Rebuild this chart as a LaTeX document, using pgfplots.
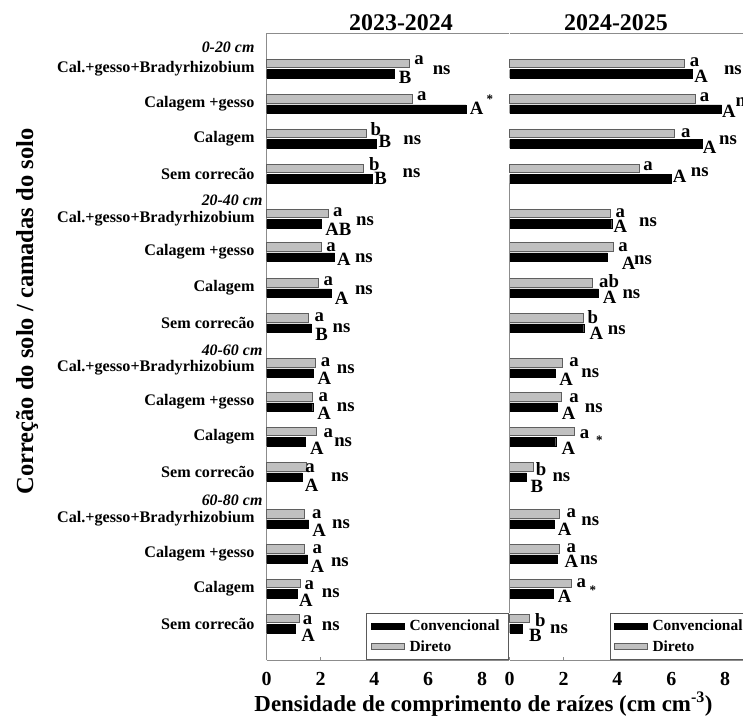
\documentclass[border=0pt]{standalone}
\usepackage{pgfplots}
\pgfplotsset{compat=1.18}
\usepackage{pgfplotstable}
\usepackage{fontspec}
\setmainfont{Liberation Serif}
\definecolor{barg}{RGB}{192,192,192}
\definecolor{bargedge}{RGB}{95,95,95}
\definecolor{axg}{RGB}{140,140,140}
\newcommand\annf{\fontsize{18.8}{18.8}\selectfont\bfseries}
\newcommand\starf{\fontsize{13}{13}\selectfont\bfseries}
\newcommand\depf{\fontsize{16}{16}\selectfont\bfseries\itshape}
\newcommand\lab[3]{\node[font=\annf, inner sep=0pt] at (axis cs:#1,#2) {#3};}
\newcommand\st[2]{\node[font=\starf, inner sep=0pt] at (axis cs:#1,#2) {*};}
\newcommand\dep[2]{\node[font=\depf, anchor=west, inner sep=0pt] at (axis cs:-2.42,#1) {#2};}

% y = -(vertical position of the category), d = Direto, c = Convencional
\pgfplotstableread{
y d c
-68.7 5.30 4.73
-104.0 5.40 7.40
-138.7 3.71 4.06
-173.7 3.59 3.91
-218.7 2.29 2.04
-252.0 2.03 2.52
-288.0 1.93 2.38
-322.8 1.55 1.65
-367.8 1.82 1.73
-402.0 1.71 1.71
-436.5 1.83 1.43
-472.0 1.46 1.32
-519.0 1.41 1.56
-554.0 1.39 1.52
-588.7 1.26 1.13
-623.5 1.21 1.06
}\lefttab
\pgfplotstableread{
y d c
-68.7 6.48 6.77
-104.0 6.89 7.87
-138.7 6.13 7.15
-173.7 4.83 6.01
-218.7 3.75 3.79
-252.0 3.84 3.63
-288.0 3.05 3.29
-322.8 2.72 2.75
-367.8 1.96 1.70
-402.0 1.93 1.77
-436.5 2.40 1.71
-472.0 0.89 0.62
-519.0 1.83 1.66
-554.0 1.86 1.77
-588.7 2.27 1.62
-623.5 0.71 0.47
}\righttab

\pgfplotsset{panel/.style={
  scale only axis, width=242.3bp, height=627bp,
  xmin=0, xmax=9, ymin=-660, ymax=-33,
  xbar, bar width=8.5bp, clip=false,
  axis x line*=bottom,
  axis line style={axg, line width=0.8bp},
  xtick={0,2,4,6,8}, x tick style={axg, line width=0.6bp}, major tick length=3bp,
  xticklabel style={font=\fontsize{20}{20}\selectfont\bfseries, inner sep=0pt, yshift=-12bp},
  /pgf/number format/assume math mode=true,
  legend style={at={(1,0)}, anchor=south east, draw={rgb,255:red,90;green,90;blue,90},
    line width=0.8bp, fill=white, font=\fontsize{15.5}{15.5}\selectfont\bfseries,
    inner xsep=4bp, inner ysep=5bp, row sep=4bp, cells={anchor=west},
    nodes={inner xsep=5bp}},
  legend image code/.code={\draw[##1] (0bp,-2.8bp) rectangle (33bp,2.8bp);},
  convs/.style={fill=black, draw=black, line width=0.4bp, bar shift=0pt},
  dirs/.style={fill=barg, draw=bargedge, line width=0.6bp, bar shift=0pt},
}}

\begin{document}
\begin{tikzpicture}
\begin{axis}[panel, at={(266.7bp,-660bp)}, anchor=south west,
  axis y line*=left, y tick style={draw=none},
  ytick={-68.7,-104,-138.7,-173.7,-218.7,-252,-288,-322.8,-367.8,-402,-436.5,-472,-519,-554,-588.7,-623.5},
  yticklabels={Cal.+gesso+Bradyrhizobium,Calagem +gesso,Calagem,Sem correcão,
    Cal.+gesso+Bradyrhizobium,Calagem +gesso,Calagem,Sem correcão,
    Cal.+gesso+Bradyrhizobium,Calagem +gesso,Calagem,Sem correcão,
    Cal.+gesso+Bradyrhizobium,Calagem +gesso,Calagem,Sem correcão},
  yticklabel style={font=\fontsize{16.2}{16}\selectfont\bfseries, inner sep=0pt, xshift=-9bp}]
\addplot[convs] table[x=c, y expr=\thisrow{y}-5.2] {\lefttab};
\addlegendentry{Convencional}
\addplot[dirs] table[x=d, y expr=\thisrow{y}+5.2] {\lefttab};
\addlegendentry{Direto}
\draw[axg, line width=0.8bp] (rel axis cs:0,1) -- (rel axis cs:1,1);
\dep{-47}{0-20 cm}\dep{-200}{20-40 cm}\dep{-350}{40-60 cm}\dep{-500}{60-80 cm}
\lab{5.66}{-60}{a}\lab{5.14}{-77.3}{B}\lab{6.50}{-70}{ns}
\lab{5.76}{-95.7}{a}\lab{7.80}{-108.3}{A}\st{8.29}{-99.3}
\lab{4.05}{-129.3}{b}\lab{4.39}{-141.7}{B}\lab{5.41}{-140}{ns}
\lab{4.00}{-164}{b}\lab{4.23}{-178.3}{B}\lab{5.38}{-172.7}{ns}
\lab{2.64}{-211.7}{a}\lab{2.66}{-229}{AB}\lab{3.65}{-221}{ns}
\lab{2.39}{-246.7}{a}\lab{2.87}{-259}{A}\lab{3.61}{-258.3}{ns}
\lab{2.29}{-280.7}{a}\lab{2.78}{-298.3}{A}\lab{3.61}{-290}{ns}
\lab{1.95}{-316.7}{a}\lab{2.04}{-334.3}{B}\lab{2.78}{-327.7}{ns}
\lab{2.19}{-361.7}{a}\lab{2.14}{-378.3}{A}\lab{2.94}{-369}{ns}
\lab{2.10}{-396.7}{a}\lab{2.13}{-413.3}{A}\lab{2.94}{-406.7}{ns}
\lab{2.29}{-433.3}{a}\lab{1.86}{-448.3}{A}\lab{2.84}{-441.7}{ns}
\lab{1.61}{-468.3}{a}\lab{1.67}{-485}{A}\lab{2.72}{-477.3}{ns}
\lab{1.86}{-514.3}{a}\lab{1.95}{-530}{A}\lab{2.76}{-524}{ns}
\lab{1.88}{-549.3}{a}\lab{1.88}{-566.7}{A}\lab{2.72}{-561.7}{ns}
\lab{1.58}{-585}{a}\lab{1.46}{-600}{A}\lab{2.38}{-592.7}{ns}
\lab{1.52}{-620}{a}\lab{1.54}{-635.7}{A}\lab{2.38}{-626}{ns}
\end{axis}

\begin{axis}[panel, at={(509.7bp,-660bp)}, anchor=south west,
  axis y line=none, ytick=\empty]
\addplot[convs] table[x=c, y expr=\thisrow{y}-5.2] {\righttab};
\addlegendentry{Convencional}
\addplot[dirs] table[x=d, y expr=\thisrow{y}+5.2] {\righttab};
\addlegendentry{Direto}
\draw[axg, line width=0.8bp] (rel axis cs:0,1) -- (rel axis cs:1,1);
\draw[axg, line width=0.8bp] (axis cs:0,-183) -- (axis cs:0,-612.7);
\lab{6.87}{-61.7}{a}\lab{7.11}{-76}{A}\lab{8.29}{-70}{ns}
\lab{7.24}{-97.3}{a}\lab{8.14}{-111.7}{A}\lab{8.72}{-101.7}{ns}
\lab{6.54}{-133.3}{a}\lab{7.43}{-147.3}{A}\lab{8.11}{-140}{ns}
\lab{5.14}{-166}{a}\lab{6.31}{-176.7}{A}\lab{7.06}{-171.7}{ns}
\lab{4.11}{-213.3}{a}\lab{4.11}{-226.7}{A}\lab{5.14}{-221.7}{ns}
\lab{4.21}{-246.7}{a}\lab{4.42}{-263.3}{A}\lab{4.95}{-260}{ns}
\lab{3.69}{-281}{ab}\lab{3.71}{-297.7}{A}\lab{4.52}{-294.3}{ns}
\lab{3.09}{-316.7}{b}\lab{3.22}{-333.3}{A}\lab{3.98}{-330}{ns}
\lab{2.39}{-362.3}{a}\lab{2.10}{-379}{A}\lab{2.99}{-372.7}{ns}
\lab{2.39}{-397.7}{a}\lab{2.19}{-413.3}{A}\lab{3.12}{-408.3}{ns}
\lab{2.78}{-434}{a}\lab{2.18}{-448.3}{A}\st{3.33}{-440.5}
\lab{1.17}{-469}{b}\lab{1.01}{-486.7}{B}\lab{1.92}{-476.7}{ns}
\lab{2.29}{-513.3}{a}\lab{2.04}{-529.3}{A}\lab{2.99}{-520.7}{ns}
\lab{2.29}{-547.7}{a}\lab{2.29}{-561.7}{A}\lab{2.94}{-560}{ns}
\lab{2.66}{-583.3}{a}\st{3.09}{-590.5}\lab{2.04}{-596.7}{A}
\lab{1.14}{-620}{b}\lab{0.95}{-635}{B}\lab{1.83}{-629.3}{ns}
\end{axis}

\node[font=\fontsize{24}{24}\selectfont\bfseries, anchor=base, inner sep=0pt] at (401bp,-30.7bp) {2023-2024};
\node[font=\fontsize{24}{24}\selectfont\bfseries, anchor=base, inner sep=0pt] at (616bp,-30.7bp) {2024-2025};
\node[font=\fontsize{23}{23}\selectfont\bfseries, anchor=base, inner sep=0pt] at (483.5bp,-711bp) {Densidade de comprimento de raízes (cm cm\textsuperscript{-3})};
\node[font=\fontsize{24.6}{24.6}\selectfont\bfseries, anchor=base, rotate=90, inner sep=0pt] at (33bp,-311.5bp) {Correção do solo / camadas do solo};
\pgfresetboundingbox
\useasboundingbox (0bp,0bp) rectangle (743bp,-720bp);
\end{tikzpicture}
\end{document}
